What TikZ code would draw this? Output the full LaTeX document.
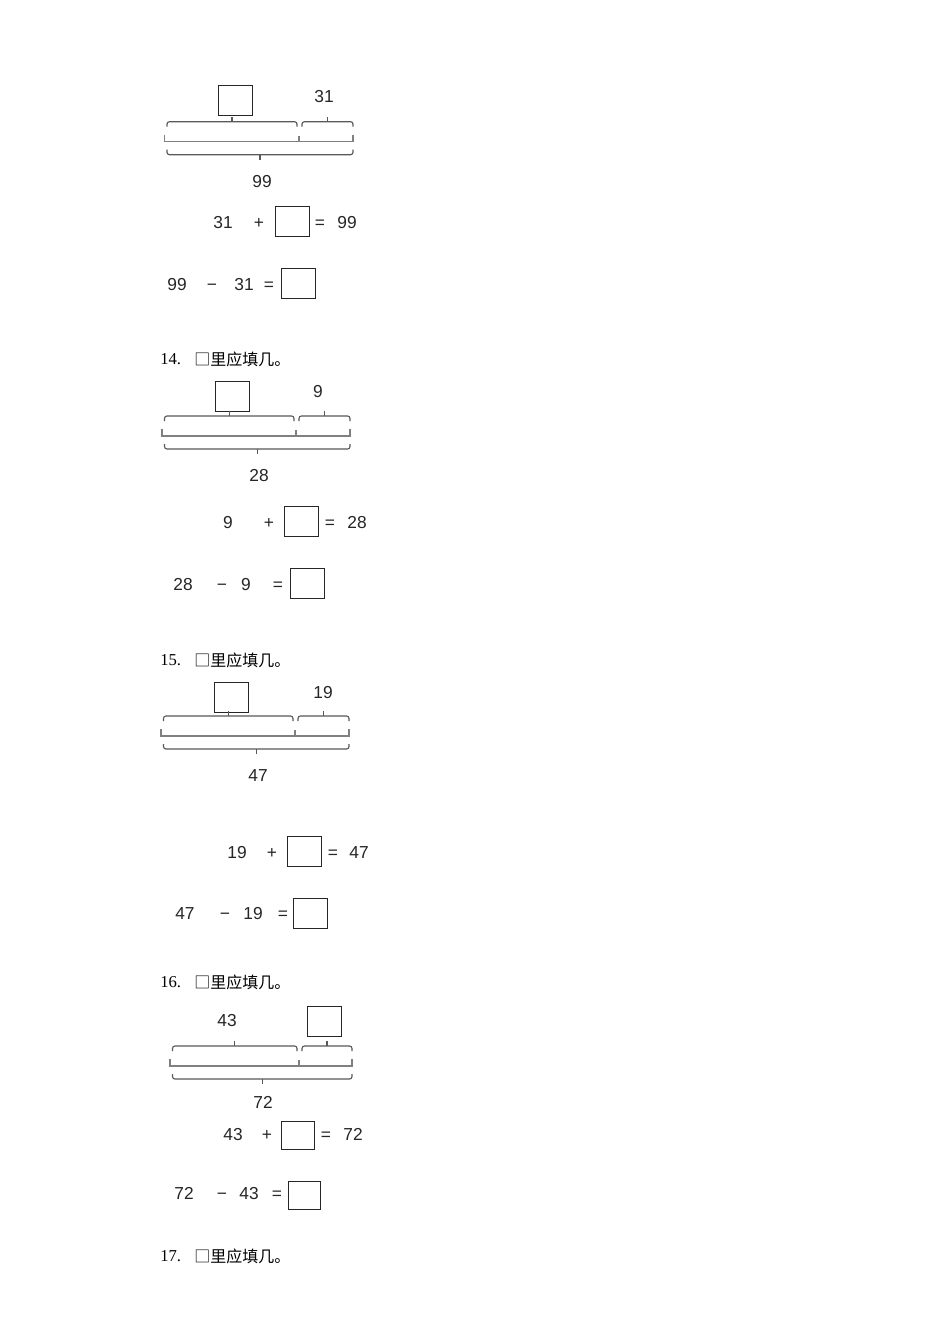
\documentclass[tikz,border=0pt]{standalone}
\usepackage{fontspec}
\setmainfont{Liberation Sans}
\newfontfamily\cjk{Noto Sans CJK SC}
\newfontfamily\serifnum{Liberation Serif}
\tikzset{
 barline/.style={draw=black!50, line width=0.8pt},
 bracel/.style={draw=black!65, line width=0.85pt, rounded corners=1.8pt},
 abox/.style={draw=black!85, line width=0.75pt, minimum width=25.5pt, minimum height=22.5pt, inner sep=0pt},
 sbox/.style={abox, minimum width=24.5pt, minimum height=21pt},
 num/.style={font=\fontsize{13}{15}\selectfont, text=black!85, inner sep=0pt, anchor=base},
 head/.style={font=\fontsize{12}{14}\selectfont, inner sep=0pt, anchor=west},
 headnum/.style={font=\fontsize{12.5}{14}\selectfont\serifnum, inner sep=0pt, anchor=west},
}
% xL, xD, xR, yB  (pixel units)
\newcommand\partbar[4]{%
 \draw[barline] (#1,#4-7) -- (#1,#4) -- (#3,#4) -- (#3,#4-7);
 \draw[barline] (#2,#4-6) -- (#2,#4);
 \draw[bracel] (#1+2.5,#4-15) -- (#1+2.5,#4-20) -- (#2-2,#4-20) -- (#2-2,#4-15);
 \draw[bracel] (#2+3,#4-15) -- (#2+3,#4-20) -- (#3,#4-20) -- (#3,#4-15);
 \draw[bracel] (#1+2.5,#4+8) -- (#1+2.5,#4+13) -- (#3,#4+13) -- (#3,#4+8);
 \draw[bracel] ({(#1+#2+0.5)/2},#4-20) -- ++(0,-5);
 \draw[bracel] ({(#2+3+#3)/2},#4-20) -- ++(0,-5);
 \draw[bracel] ({(#1+2.5+#3)/2},#4+13) -- ++(0,5);
}
\begin{document}
\begin{tikzpicture}[x=0.75pt,y=-0.75pt]
\useasboundingbox (0,0) rectangle (950,1344);
\fill[white] (0,0) rectangle (950,1344);

% ---------- diagram 13 ----------
\node[abox] (b1) at (235,101) {};
\node[num] (l1) at (324,102.5) {31};
\partbar{164.5}{299}{353}{141.7}
\node[num] (t1) at (262,187.5) {99};
\node[num] (e1a) at (223,228.5) {31};
\node[num] (e1b) at (259,228.5) {+};
\node[abox] (e1c) at (292,221.5) {};
\node[num] (e1d) at (320,228.5) {=};
\node[num] (e1e) at (347,228.5) {99};
\node[num] (f1a) at (177,290.5) {99};
\node[num] (f1b) at (212,290.5) {−};
\node[num] (f1c) at (244,290.5) {31};
\node[num] (f1d) at (269,290.5) {=};
\node[abox] (f1e) at (298,283.5) {};

% ---------- 14 ----------
\node[headnum] (h14n) at (160,359) {14.};
\node[head] (h14t) at (194,359) {\cjk □里应填几。};
\node[abox] (b2) at (232.5,396.5) {};
\node[num] (l2) at (318,397.5) {9};
\partbar{162}{296}{350}{436}
\node[num] (t2) at (259,481.5) {28};
\node[num] (e2a) at (228,528.5) {9};
\node[num] (e2b) at (269,528.5) {+};
\node[abox] (e2c) at (301,521) {};
\node[num] (e2d) at (330,528.5) {=};
\node[num] (e2e) at (357,528.5) {28};
\node[num] (f2a) at (183,590.5) {28};
\node[num] (f2b) at (222,590.5) {−};
\node[num] (f2c) at (246,590.5) {9};
\node[num] (f2d) at (278,590.5) {=};
\node[abox] (f2e) at (307,583.5) {};

% ---------- 15 ----------
\node[headnum] (h15n) at (160,660) {15.};
\node[head] (h15t) at (194,660) {\cjk □里应填几。};
\node[abox] (b3) at (231,697) {};
\node[num] (l3) at (323,698.5) {19};
\partbar{161}{295}{349}{736}
\node[num] (t3) at (258,781.5) {47};
\node[num] (e3a) at (237,858.5) {19};
\node[num] (e3b) at (272,858.5) {+};
\node[abox] (e3c) at (304,851) {};
\node[num] (e3d) at (333,858.5) {=};
\node[num] (e3e) at (359,858.5) {47};
\node[num] (f3a) at (185,919.5) {47};
\node[num] (f3b) at (225,919.5) {−};
\node[num] (f3c) at (253,919.5) {19};
\node[num] (f3d) at (283,919.5) {=};
\node[abox] (f3e) at (310,913.5) {};

% ---------- 16 ----------
\node[headnum] (h16n) at (160,982) {16.};
\node[head] (h16t) at (194,982) {\cjk □里应填几。};
\node[num] (l4) at (227,1026.5) {43};
\node[abox] (b4) at (324.5,1021.5) {};
\partbar{170}{299}{352}{1066}
\node[num] (t4) at (263,1108.5) {72};
\node[num] (e4a) at (233,1140.5) {43};
\node[num] (e4b) at (267,1140.5) {+};
\node[sbox] (e4c) at (298,1135.5) {};
\node[num] (e4d) at (326,1140.5) {=};
\node[num] (e4e) at (353,1140.5) {72};
\node[num] (f4a) at (184,1199.5) {72};
\node[num] (f4b) at (222,1199.5) {−};
\node[num] (f4c) at (249,1199.5) {43};
\node[num] (f4d) at (277,1199.5) {=};
\node[sbox] (f4e) at (304.5,1195) {};

% ---------- 17 ----------
\node[headnum] (h17n) at (160,1256) {17.};
\node[head] (h17t) at (194,1256) {\cjk □里应填几。};
\end{tikzpicture}
\end{document}
